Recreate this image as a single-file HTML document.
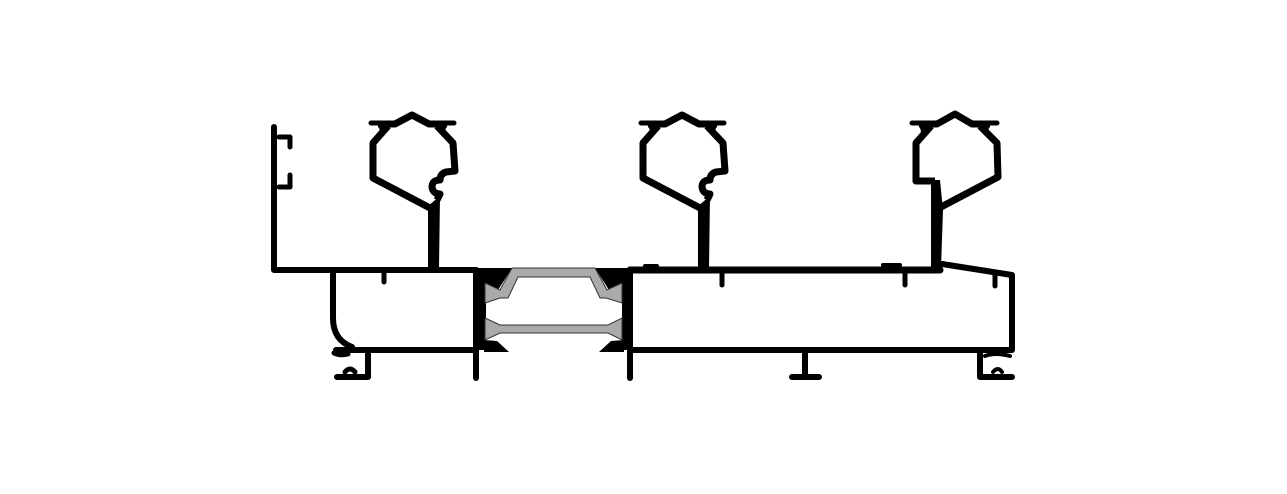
<!DOCTYPE html>
<html><head><meta charset="utf-8"><style>html,body{margin:0;padding:0;background:#fff}svg{display:block}</style></head>
<body>
<svg width="1287" height="494" viewBox="0 0 1287 494" xmlns="http://www.w3.org/2000/svg">
<defs>
<g id="bulb">
  <path d="M378,124 L395,124 L412,115 L429,124 L447,124" fill="none" stroke="#000" stroke-width="7" stroke-linejoin="round"/>
  <path d="M371,123 L387,123 M438,123 L454,123" stroke="#000" stroke-width="5" stroke-linecap="round"/>
  <path d="M374,122 Q380,126 380,133 L386,125 Z M451,122 Q445,126 445,133 L439,125 Z" fill="#000"/>
  <path d="M388,126 L373,143 L373,178 L430,208" fill="none" stroke="#000" stroke-width="7" stroke-linejoin="round"/>
  <path d="M437,126 L453,143 L455,171 L446,172 Q440,174 440,180 Q432,180 432,187 Q433,194 440,194 L437,200" fill="none" stroke="#000" stroke-width="7" stroke-linejoin="round"/>
  <path d="M428,206 L440,196 L439,268 L428,268 Z" fill="#000"/>
</g>
</defs>
<g fill="none" stroke="#000" stroke-linecap="round" stroke-linejoin="round">
  <path d="M274,127 L274,270 L476,270" stroke-width="6"/>
  <path d="M279,137 L290,137 L290,147 M290,175 L290,187 L279,187" stroke-width="5"/>
  <path d="M384,270 L384,282" stroke-width="5"/>
  <path d="M333,272 L333,318 Q333,340 352,347 L352,350" stroke-width="6"/>
  <path d="M336,350 L476,350" stroke-width="6"/>
  <path d="M368,352 L368,377 L337,377" stroke-width="6"/>
  <path d="M334,353 Q340,356 348,354 M345,372 Q350,366 355,372" stroke-width="5"/>
  <path d="M476,270 L476,378" stroke-width="6"/>
  <path d="M630,270 L940,270" stroke-width="7"/>
  <path d="M942,264 L1012,275 L1012,350 L632,350" stroke-width="6"/>
  <path d="M630,270 L630,378" stroke-width="6"/>
  <path d="M722,270 L722,285 M905,270 L905,285 M995,275 L995,286" stroke-width="5"/>
  <path d="M805,350 L805,376 M792,377 L819,377" stroke-width="6"/>
  <path d="M980,352 L980,377 L1012,377" stroke-width="6"/>
  <path d="M985,356 Q995,352 1010,356 M993,372 Q998,366 1002,372" stroke-width="4"/>
  <path d="M645,266 L657,266 M883,265 L900,265" stroke-width="4"/>
</g>
<use href="#bulb"/>
<use href="#bulb" transform="translate(270,0)"/>
<g fill="none" stroke="#000" stroke-width="7" stroke-linejoin="round">
  <path d="M919,124 L937,124 L955,114 L972,124 L990,124"/>
  <path d="M931,126 L916,143 L916,181 L935,181"/>
  <path d="M980,126 L997,143 L998,177 L941,207"/>
</g>
<path d="M912,123 L928,123 M981,123 L997,123" stroke="#000" stroke-width="5" stroke-linecap="round"/>
<path d="M915,122 Q921,126 921,133 L927,125 Z M994,122 Q988,126 988,133 L982,125 Z" fill="#000"/>
<path d="M931,180 L940,180 L943,210 L941,268 L931,268 Z" fill="#000"/>
<g fill="#000">
  <path d="M473,268 L512,268 L498,290 L486,300 L486,350 L473,350 Z"/>
  <path d="M633,268 L595,268 L609,290 L622,300 L622,350 L633,350 Z"/>
  <path d="M484,340 L497,341 L509,352 L484,352 Z"/>
  <path d="M624,340 L611,341 L599,352 L624,352 Z"/>
</g>
<g fill="#aaa" stroke="#333" stroke-width="1">
  <path d="M485,283 L500,290 L512,268 L595,268 L607,290 L622,283 L622,303 L606,298 L600,298 L590,277 L518,277 L508,298 L500,298 L485,303 Z"/>
  <path d="M485,318 L500,325 L608,325 L622,318 L622,340 L608,333 L500,333 L485,340 Z"/>
</g>
</svg>
</body></html>
